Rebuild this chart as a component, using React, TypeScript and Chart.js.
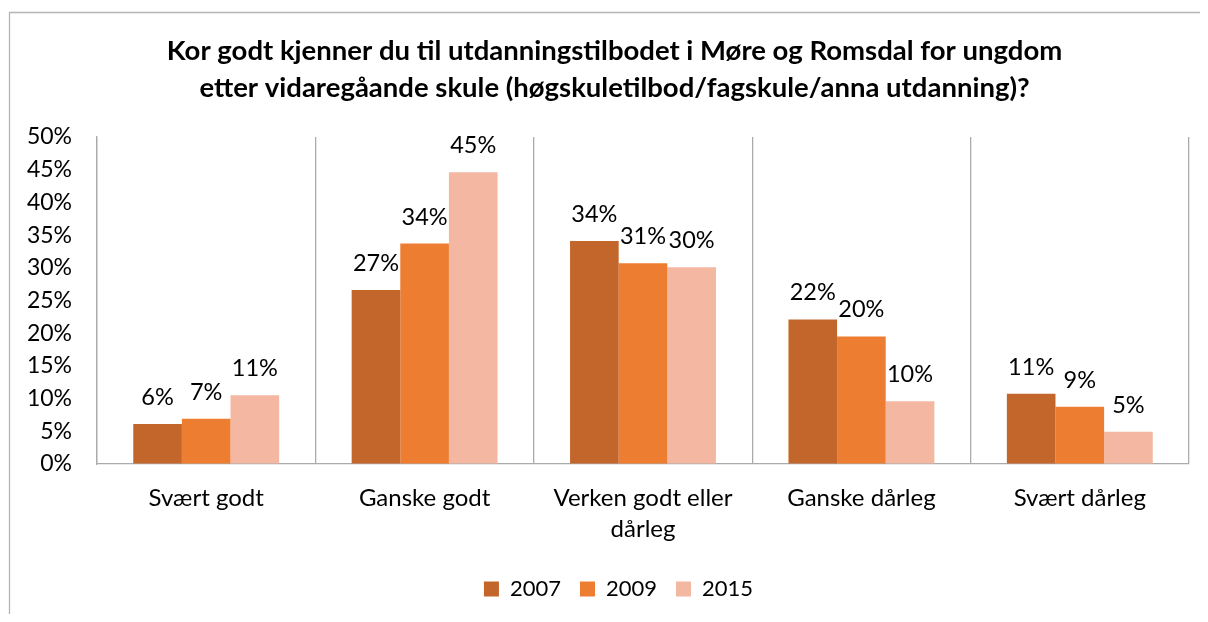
import React, { useEffect, useRef } from "react";
import { Chart, registerables } from "chart.js";

Chart.register(...registerables);

const titleLines = [
  "Kor godt kjenner du til utdanningstilbodet i Møre og Romsdal for ungdom",
  "etter vidaregåande skule (høgskuletilbod/fagskule/anna utdanning)?",
];
const categories: (string | string[])[] = [
  "Svært godt",
  "Ganske godt",
  ["Verken godt eller", "dårleg"],
  "Ganske dårleg",
  "Svært dårleg",
];
const seriesNames = ["2007", "2009", "2015"];
const values2007 = [6.1, 26.6, 34.1, 22.1, 10.75];
const values2009 = [6.9, 33.7, 30.7, 19.5, 8.76];
const values2015 = [10.5, 44.6, 30.1, 9.6, 4.94];
const colors = ["#C3662B", "#ED7D31", "#F4B7A1"];
const yMax = 50;
const yStep = 5;

const FONT = "Lato, 'Open Sans', sans-serif";
const AXIS_COLOR = "#ABABAB";

const framePlugin = {
  id: "frame",
  beforeDraw(chart: any) {
    const { ctx, width, height } = chart;
    ctx.save();
    ctx.strokeStyle = "#B4B4B4";
    ctx.lineWidth = 1.3;
    ctx.beginPath();
    ctx.moveTo(1.5, height + 2);
    ctx.lineTo(1.5, 4.5);
    ctx.lineTo(width + 2, 4.5);
    ctx.stroke();
    ctx.restore();
  },
};

// Shift title and legend so they are centred on the whole frame, like the original
const shiftPlugin = {
  id: "shiftBoxes",
  afterUpdate(chart: any) {
    const patch = (box: any, dx: number) => {
      if (!box || box.__patched) return;
      const orig = box.draw.bind(box);
      box.draw = (...args: any[]) => {
        const ctx = chart.ctx;
        ctx.save();
        ctx.translate(dx, 0);
        orig(...args);
        ctx.restore();
      };
      box.__patched = true;
    };
    patch(chart.titleBlock, 16);
    patch(chart.legend, 20);
  },
};

const dataLabelPlugin = {
  id: "dataLabels",
  afterDatasetsDraw(chart: any) {
    const { ctx } = chart;
    ctx.save();
    ctx.font = `23.5px ${FONT}`;
    ctx.fillStyle = "#000000";
    ctx.textAlign = "center";
    ctx.textBaseline = "alphabetic";
    chart.data.datasets.forEach((ds: any, i: number) => {
      const meta = chart.getDatasetMeta(i);
      meta.data.forEach((bar: any, j: number) => {
        const v = ds.data[j] as number;
        ctx.fillText(`${Math.round(v)}%`, bar.x, bar.y - 19);
      });
    });
    ctx.restore();
  },
};

export default function App() {
  const ref = useRef<HTMLCanvasElement | null>(null);
  useEffect(() => {
    if (!ref.current) return;
    const chart = new Chart(ref.current, {
      type: "bar",
      data: {
        labels: categories,
        datasets: [values2007, values2009, values2015].map((d, i) => ({
          label: seriesNames[i],
          data: d,
          backgroundColor: colors[i],
          borderWidth: 0,
          categoryPercentage: 0.668,
          barPercentage: 1,
        })),
      },
      options: {
        animation: false,
        responsive: true,
        maintainAspectRatio: false,
        layout: { padding: { left: 0, right: 19, top: 0, bottom: 4 } },
        plugins: {
          title: {
            display: true,
            text: titleLines,
            color: "#000000",
            font: { family: FONT, size: 27.5, weight: "bold", lineHeight: 37 / 27.5 },
            padding: { top: 25, bottom: 30 },
          },
          legend: {
            display: true,
            position: "bottom",
            labels: {
              color: "#000000",
              font: { family: FONT, size: 22 },
              boxWidth: 15,
              boxHeight: 15,
              padding: 19,
            },
          },
          tooltip: { enabled: false },
        },
        scales: {
          x: {
            grid: { display: true, color: AXIS_COLOR, lineWidth: 1.3, drawTicks: false, offset: true },
            border: { display: true, color: AXIS_COLOR, width: 1.3 },
            ticks: {
              color: "#000000",
              font: { family: FONT, size: 24, lineHeight: 31 / 24 },
              padding: 19,
              maxRotation: 0,
              autoSkip: false,
            },
            afterFit(scale: any) {
              scale.height = 95;
            },
          },
          y: {
            min: 0,
            max: yMax,
            grid: { display: true, color: "rgba(0,0,0,0)", drawTicks: false },
            border: { display: true, color: AXIS_COLOR, width: 1.3 },
            ticks: {
              stepSize: yStep,
              color: "#000000",
              font: { family: FONT, size: 23 },
              padding: 25,
              callback: (v: any) => `${v}%`,
            },
            afterFit(scale: any) {
              scale.width = 89;
            },
          },
        },
      },
      plugins: [framePlugin, shiftPlugin, dataLabelPlugin],
    });
    return () => chart.destroy();
  }, []);
  return (
    <div style={{ width: 1200, height: 606, position: "relative" }}>
      <canvas ref={ref} />
    </div>
  );
}
